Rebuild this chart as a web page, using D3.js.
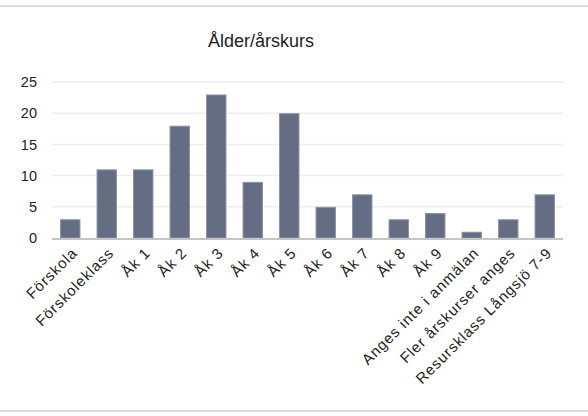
<!DOCTYPE html>
<html>
<head>
<meta charset="utf-8">
<script src="https://cdn.jsdelivr.net/npm/d3@7"></script>
<style>
  body { margin: 0; background: #fff; }
  svg { display: block; font-family: "Liberation Sans", Arial, sans-serif; }
</style>
</head>
<body>
<div id="chart"></div>
<script>
// data
const categories = ["Förskola", "Förskoleklass", "Åk 1", "Åk 2", "Åk 3", "Åk 4", "Åk 5", "Åk 6", "Åk 7", "Åk 8", "Åk 9", "Anges inte i anmälan", "Fler årskurser anges", "Resursklass Långsjö 7-9"];
const counts = [3, 11, 11, 18, 23, 9, 20, 5, 7, 3, 4, 1, 3, 7];
const yTicks = [0, 5, 10, 15, 20, 25];

const W = 588, H = 416;
const margin = { top: 82, right: 25, bottom: 178, left: 52 };

const svg = d3.select("#chart").append("svg")
    .attr("width", W)
    .attr("height", H);

// frame lines top and bottom
svg.append("rect").attr("x", 0).attr("y", 5).attr("width", W).attr("height", 2).attr("fill", "#dcdcdc");
svg.append("rect").attr("x", 0).attr("y", 410).attr("width", W).attr("height", 2).attr("fill", "#dcdcdc");

svg.append("text")
    .attr("x", 261)
    .attr("y", 47)
    .attr("text-anchor", "middle")
    .attr("font-size", 18)
    .attr("fill", "#222")
    .text("Ålder/årskurs");

const x = d3.scaleBand()
    .domain(categories)
    .range([margin.left, W - margin.right])
    .paddingInner(0.44)
    .paddingOuter(0.22);

const y = d3.scaleLinear()
    .domain([0, 25])
    .range([H - margin.bottom, margin.top]);

// gridlines
svg.append("g")
    .selectAll("line")
    .data(yTicks.filter(d => d > 0))
    .join("line")
    .attr("x1", margin.left)
    .attr("x2", W - margin.right)
    .attr("y1", d => y(d))
    .attr("y2", d => y(d))
    .attr("stroke", "#eeeeee")
    .attr("stroke-width", 1.5);

// y axis labels
const yAxis = svg.append("g")
    .attr("transform", `translate(${margin.left},0)`)
    .call(d3.axisLeft(y).tickValues(yTicks).tickSize(0).tickPadding(15));
yAxis.select(".domain").remove();
yAxis.selectAll("text").attr("font-size", 14.5).attr("fill", "#222").attr("font-family", "Liberation Sans, Arial, sans-serif");

// bars
svg.append("g")
    .selectAll("rect")
    .data(counts)
    .join("rect")
    .attr("x", (d, i) => x(categories[i]) + 0.5)
    .attr("y", d => y(d) + 0.5)
    .attr("width", x.bandwidth() - 1)
    .attr("height", d => y(0) - y(d) - 0.5)
    .attr("fill", "#646d84")
    .attr("stroke", "#8c93a5")
    .attr("stroke-width", 1);

// baseline
svg.append("line")
    .attr("x1", margin.left)
    .attr("x2", W - margin.right)
    .attr("y1", y(0) + 1)
    .attr("y2", y(0) + 1)
    .attr("stroke", "#c4c4c4")
    .attr("stroke-width", 2);

// x labels, rotated
const xAxis = svg.append("g")
    .attr("transform", `translate(0,${y(0)})`)
    .call(d3.axisBottom(x).tickSize(0).tickPadding(0));
xAxis.select(".domain").remove();
xAxis.selectAll("text")
    .attr("font-size", 15)
    .attr("letter-spacing", 0.9)
    .attr("fill", "#222")
    .attr("font-family", "Liberation Sans, Arial, sans-serif")
    .attr("text-anchor", "end")
    .attr("dy", null)
    .attr("transform", "translate(8,16) rotate(-45)");
</script>
</body>
</html>
